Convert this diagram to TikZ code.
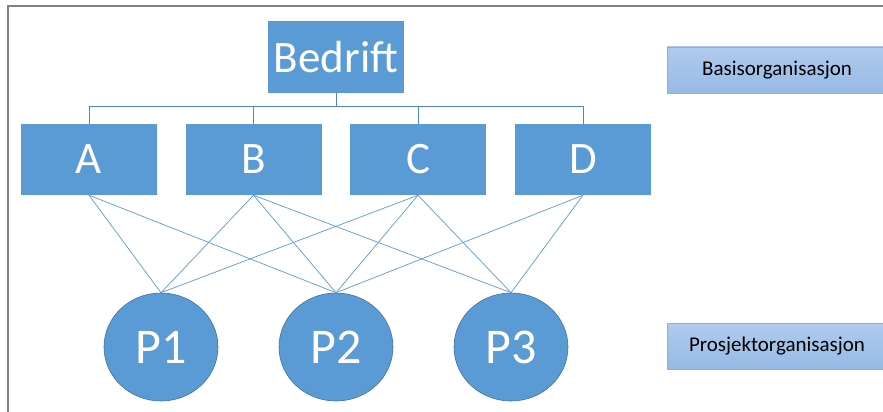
\documentclass[tikz,border=0pt]{standalone}
\usepackage{fontspec}
\setmainfont{Carlito}
\usetikzlibrary{shapes.geometric}
\definecolor{boxblue}{RGB}{91,155,213}
\definecolor{edgeblue}{RGB}{65,113,156}
\definecolor{lineblue}{RGB}{91,155,213}
\definecolor{treeblue}{RGB}{80,135,195}
\definecolor{labtop}{RGB}{176,203,237}
\definecolor{labbot}{RGB}{150,186,229}
\definecolor{labedge}{RGB}{140,175,220}
\definecolor{framegray}{RGB}{128,128,128}
\tikzset{
  unitbox/.style={rectangle, fill=boxblue, draw=none, inner sep=0pt, text=white,
    minimum width=136pt, minimum height=71pt, font=\fontsize{45}{50}\selectfont},
  projnode/.style={ellipse, fill=boxblue, draw=edgeblue, line width=0.6pt, inner sep=0pt,
    text=white, minimum width=114pt, minimum height=108pt, font=\fontsize{50}{55}\selectfont},
  labelbox/.style={rectangle, top color=labtop, bottom color=labbot, draw=labedge, line width=0.5pt,
    inner sep=0pt, minimum width=220pt, minimum height=46pt, text=black,
    font=\fontsize{21}{24}\selectfont},
  tree/.style={draw=treeblue, line width=1pt},
  link/.style={draw=lineblue, line width=0.7pt},
}
\begin{document}
\begin{tikzpicture}[x=1pt, y=-1pt]
\useasboundingbox (0,0) rectangle (883,412);
\fill[white] (0,0) rectangle (883,412);
% frame
\coordinate (f1) at (8.3,412);
\coordinate (f2) at (8.3,6);
\coordinate (f3) at (883,6);
\draw[framegray, line width=1.8pt] (f1) -- (f2) -- (f3);
% nodes
\node[unitbox] (bed) at (336,57) {Bedrift};
\node[unitbox] (A) at (89,159.5) {A};
\node[unitbox] (B) at (253.5,159.5) {B};
\node[unitbox] (C) at (418,159.5) {C};
\node[unitbox] (D) at (583,159.5) {D};
\node[projnode] (P1) at (161,347) {P1};
\node[projnode] (P2) at (336,347) {P2};
\node[projnode] (P3) at (511,347) {P3};
\node[labelbox] (basis) at (777,70) {Basisorganisasjon};
\node[labelbox] (prosj) at (777,346) {Prosjektorganisasjon};
% tree
\coordinate (h) at (336,106);
\draw[tree] (bed.south) -- (h);
\draw[tree] (A.north) |- (h);
\draw[tree] (D.north) |- (h);
\draw[tree] (B.north) -- (B.north |- h);
\draw[tree] (C.north) -- (C.north |- h);
% links
\foreach \u/\p in {A/P1, A/P2, B/P1, B/P2, B/P3, C/P1, C/P2, C/P3, D/P2, D/P3}
  \draw[link] (\u.south) -- (\p.north);
\end{tikzpicture}
\end{document}
